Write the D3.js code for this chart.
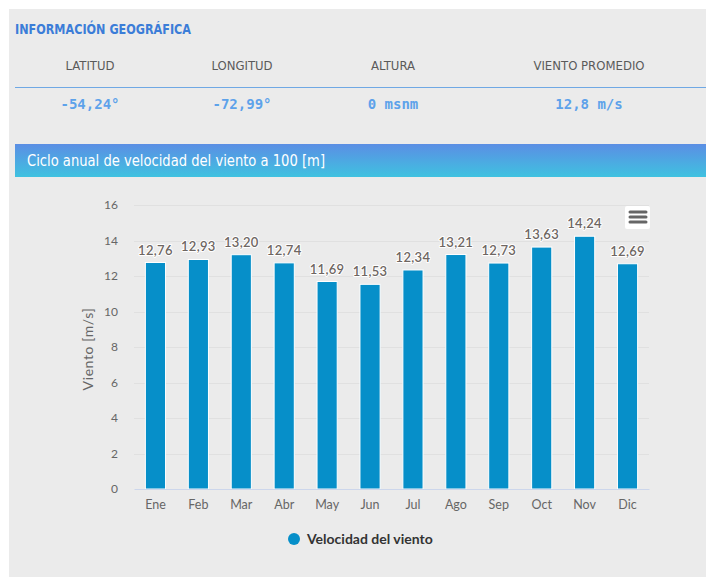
<!DOCTYPE html>
<html>
<head>
<meta charset="utf-8">
<script src="https://cdn.jsdelivr.net/npm/d3@7"></script>
<style>
  html, body { margin: 0; padding: 0; background: #ffffff; }
  svg { display: block; }
</style>
</head>
<body>
<svg id="chart" width="706" height="579"></svg>
<script>
// Monthly mean wind speed at 100 m (m/s)
const months = ["Ene", "Feb", "Mar", "Abr", "May", "Jun", "Jul", "Ago", "Sep", "Oct", "Nov", "Dic"];
const windSpeed = [12.76, 12.93, 13.20, 12.74, 11.69, 11.53, 12.34, 13.21, 12.73, 13.63, 14.24, 12.69];
const yTicks = [0, 2, 4, 6, 8, 10, 12, 14, 16];

// Site information table
const infoHeaders = ["LATITUD", "LONGITUD", "ALTURA", "VIENTO PROMEDIO"];
const infoValues = ["-54,24°", "-72,99°", "0 msnm", "12,8 m/s"];

const svg = d3.select("#chart");
const narrow = "'Liberation Sans Narrow', 'DejaVu Sans Condensed', sans-serif";
const chartFont = "Lato, 'Open Sans', sans-serif";
const monoFont = "'DejaVu Sans Mono', 'Liberation Mono', monospace";
const fmt = v => v.toFixed(2).replace(".", ",");

// Panel background
svg.append("rect").attr("x", 9).attr("y", 9).attr("width", 697).attr("height", 568)
  .attr("fill", "#ebebeb");

// Header
svg.append("text").attr("x", 15).attr("y", 34)
  .attr("font-family", narrow).attr("font-size", 14).attr("font-weight", "bold")
  .attr("textLength", 176).attr("lengthAdjust", "spacingAndGlyphs")
  .attr("fill", "#3b7dd8").text("INFORMACIÓN GEOGRÁFICA");

const colX = [90, 242, 393, 589];
svg.append("g").selectAll("text").data(infoHeaders).join("text")
  .attr("x", (d, i) => colX[i]).attr("y", 70).attr("text-anchor", "middle")
  .attr("font-family", narrow).attr("font-size", 13).attr("fill", "#5a5a5a")
  .text(d => d);

svg.append("line").attr("x1", 15).attr("x2", 706).attr("y1", 87.5).attr("y2", 87.5)
  .attr("stroke", "#6fa8e4").attr("stroke-width", 1.2);

svg.append("g").selectAll("text").data(infoValues).join("text")
  .attr("x", (d, i) => colX[i]).attr("y", 109).attr("text-anchor", "middle")
  .attr("font-family", monoFont).attr("font-size", 14).attr("font-weight", "bold")
  .attr("fill", "#5da2ea").text(d => d);

// Title bar with gradient
const defs = svg.append("defs");
const grad = defs.append("linearGradient").attr("id", "titleGrad")
  .attr("x1", 0).attr("y1", 0).attr("x2", 0).attr("y2", 1);
grad.append("stop").attr("offset", "0%").attr("stop-color", "#5b8ee4");
grad.append("stop").attr("offset", "100%").attr("stop-color", "#3fc2e0");
svg.append("rect").attr("x", 15).attr("y", 144).attr("width", 691).attr("height", 33)
  .attr("fill", "url(#titleGrad)");
svg.append("text").attr("x", 27).attr("y", 166)
  .attr("font-family", narrow).attr("font-size", 15).attr("fill", "#ffffff")
  .attr("textLength", 298).attr("lengthAdjust", "spacingAndGlyphs")
  .text("Ciclo anual de velocidad del viento a 100 [m]");

// Plot area
const plot = { left: 134, right: 649, top: 205, bottom: 489 };
const x = d3.scaleBand().domain(months).range([plot.left, plot.right]).paddingInner(0.53).paddingOuter(0.265);
const y = d3.scaleLinear().domain([0, 16]).range([plot.bottom, plot.top]);

// Gridlines
svg.append("g").selectAll("line").data(yTicks.filter(t => t > 0)).join("line")
  .attr("x1", plot.left).attr("x2", plot.right)
  .attr("y1", d => Math.round(y(d)) + 0.5).attr("y2", d => Math.round(y(d)) + 0.5)
  .attr("stroke", "#e0e0e0").attr("stroke-width", 1);

// Y axis
const yAxis = svg.append("g").attr("transform", `translate(${plot.left},0)`)
  .call(d3.axisLeft(y).tickValues(yTicks).tickSize(0).tickPadding(16));
yAxis.select(".domain").remove();
yAxis.selectAll("text").attr("font-family", chartFont).attr("font-size", 12).attr("fill", "#666666");

svg.append("text").attr("transform", `translate(93,${(plot.top + plot.bottom) / 2 + 2}) rotate(-90)`)
  .attr("text-anchor", "middle").attr("font-family", chartFont).attr("font-size", 14)
  .attr("letter-spacing", 0.6)
  .attr("fill", "#666666").text("Viento [m/s]");

// Bars
svg.append("g").selectAll("rect").data(windSpeed).join("rect")
  .attr("x", (d, i) => x(months[i]))
  .attr("y", d => y(d))
  .attr("width", x.bandwidth())
  .attr("height", d => y(0) - y(d))
  .attr("fill", "#068fc9").attr("stroke", "#ffffff").attr("stroke-width", 1);

// X axis
const xAxis = svg.append("g").attr("transform", `translate(0,${plot.bottom})`)
  .call(d3.axisBottom(x).tickSize(0).tickPadding(11));
xAxis.select(".domain").attr("stroke", "#ccd6eb");
xAxis.selectAll("text").attr("font-family", chartFont).attr("font-size", 12.5).attr("fill", "#666666");

// Data labels
svg.append("g").selectAll("text").data(windSpeed).join("text")
  .attr("x", (d, i) => x(months[i]) + x.bandwidth() / 2)
  .attr("y", d => y(d) - 8)
  .attr("text-anchor", "middle")
  .attr("font-family", chartFont).attr("font-size", 13).attr("font-weight", "600")
  .attr("letter-spacing", 0.3)
  .attr("fill", "#6e6662")
  .attr("stroke", "#ffffff").attr("stroke-width", 2).attr("stroke-linejoin", "round")
  .attr("paint-order", "stroke")
  .text(d => fmt(d));

// Menu button
svg.append("rect").attr("x", 625).attr("y", 206).attr("width", 25).attr("height", 23)
  .attr("rx", 2).attr("fill", "#ffffff");
svg.append("g").selectAll("line").data([212, 217, 222]).join("line")
  .attr("x1", 630).attr("x2", 646).attr("y1", d => d).attr("y2", d => d)
  .attr("stroke", "#666666").attr("stroke-width", 3).attr("stroke-linecap", "round");

// Legend
svg.append("circle").attr("cx", 294).attr("cy", 539).attr("r", 6).attr("fill", "#068fc9");
svg.append("text").attr("x", 307).attr("y", 544)
  .attr("font-family", chartFont).attr("font-size", 14).attr("font-weight", "bold")
  .attr("fill", "#333333").text("Velocidad del viento");
</script>
</body>
</html>
